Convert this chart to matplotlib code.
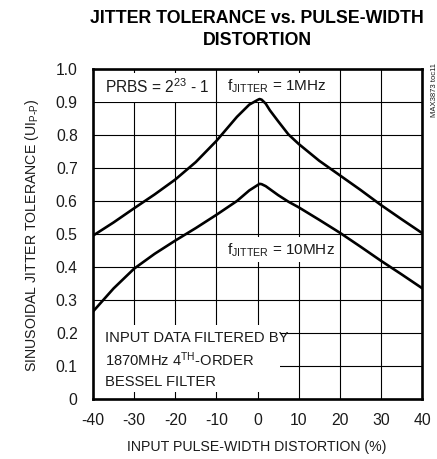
import matplotlib
matplotlib.use("Agg")
import matplotlib.pyplot as plt
from matplotlib.patches import Rectangle

plt.rcParams['font.family'] = ['Liberation Sans', 'DejaVu Sans']
plt.rcParams['mathtext.default'] = 'regular'
plt.rcParams['axes.unicode_minus'] = False

# Data
distortion = [-40, -35, -30, -25, -20, -15, -10, -5, -2, 0, 0.5, 1, 2, 3, 5, 7.5, 10, 15, 20, 25, 30, 35, 40]
tol_1mhz = [0.495, 0.535, 0.578, 0.62, 0.665, 0.718, 0.782, 0.855, 0.892, 0.906, 0.909, 0.907, 0.895,
            0.875, 0.842, 0.802, 0.773, 0.722, 0.678, 0.634, 0.588, 0.545, 0.503]
tol_10mhz = [0.265, 0.335, 0.395, 0.44, 0.48, 0.518, 0.558, 0.60, 0.632, 0.648, 0.652, 0.651, 0.645,
             0.636, 0.618, 0.598, 0.581, 0.543, 0.504, 0.462, 0.419, 0.378, 0.336]
xticks = [-40, -30, -20, -10, 0, 10, 20, 30, 40]
xtick_labels = ['-40', '-30', '-20', '-10', '0', '10', '20', '30', '40']
yticks = [0, 0.1, 0.2, 0.3, 0.4, 0.5, 0.6, 0.7, 0.8, 0.9, 1.0]
ytick_labels = ['0', '0.1', '0.2', '0.3', '0.4', '0.5', '0.6', '0.7', '0.8', '0.9', '1.0']

W, H = 437, 459
fig = plt.figure(figsize=(W / 100, H / 100), dpi=100)
ax = fig.add_axes([93 / W, 1 - 399 / H, (422 - 93) / W, (399 - 69) / H])

txtc = '#1a1a1a'
ax.plot(distortion, tol_1mhz, color='black', lw=1.9, solid_joinstyle='round', zorder=3)
ax.plot(distortion, tol_10mhz, color='black', lw=1.9, solid_joinstyle='round', zorder=3)

ax.set_xlim(-40, 40)
ax.set_ylim(0, 1.0)
ax.set_xticks(xticks)
ax.set_xticklabels(xtick_labels)
ax.set_yticks(yticks)
ax.set_yticklabels(ytick_labels)
ax.tick_params(length=0, labelsize=11.3, colors=txtc)
ax.tick_params(axis='x', pad=10)
ax.tick_params(axis='y', pad=11)
ax.grid(True, color='black', lw=0.8)
ax.set_axisbelow(True)
for s in ax.spines.values():
    s.set_linewidth(1.9)
    s.set_zorder(5)

# white boxes behind labels
for (x0, y0, w, h) in [(-40, 0.9, 28.5, 0.088), (-9.3, 0.9, 26.5, 0.088),
                       (-9.3, 0.415, 26.5, 0.075), (-40, 0.02, 45.5, 0.205)]:
    ax.add_patch(Rectangle((x0, y0), w, h, facecolor='white', edgecolor='none', zorder=1))

fs = 10.6
ax.text(-37.2, 0.948, 'PRBS = 2$^{23}$ - 1', fontsize=fs + 0.6, color=txtc, va='center', zorder=4)
ax.text(-7.5, 0.948, 'f$_{JITTER}$ = 1MHz', fontsize=fs + 0.4, color=txtc, va='center', zorder=4)
ax.text(-7.5, 0.452, 'f$_{JITTER}$ = 10MHz', fontsize=fs + 0.4, color=txtc, va='center', zorder=4)
ax.text(-37.2, 0.186, 'INPUT DATA FILTERED BY', fontsize=fs, color=txtc, va='center', zorder=4)
ax.text(-37.2, 0.118, '1870MHz 4$^{TH}$-ORDER', fontsize=fs, color=txtc, va='center', zorder=4)
ax.text(-37.2, 0.052, 'BESSEL FILTER', fontsize=fs, color=txtc, va='center', zorder=4)

fig.text(257 / W, 1 - 447 / H, 'INPUT PULSE-WIDTH DISTORTION (%)', fontsize=10.2, color=txtc,
         ha='center', va='center')
fig.text(32 / W, 1 - 235 / H, r'SINUSOIDAL JITTER TOLERANCE (UI$_{P\text{-}P}$)', fontsize=10.2,
         color=txtc, ha='center', va='center', rotation=90)
fig.text(257 / W, 1 - 10 / H, 'JITTER TOLERANCE vs. PULSE-WIDTH\nDISTORTION', fontsize=12.8,
         fontweight='bold', color='black', ha='center', va='top', linespacing=1.38)
fig.text(434 / W, 1 - 63 / H, 'MAX3873 toc11', fontsize=5.5, color=txtc, rotation=90,
         ha='center', va='top')

fig.savefig('out.png', dpi=100)
